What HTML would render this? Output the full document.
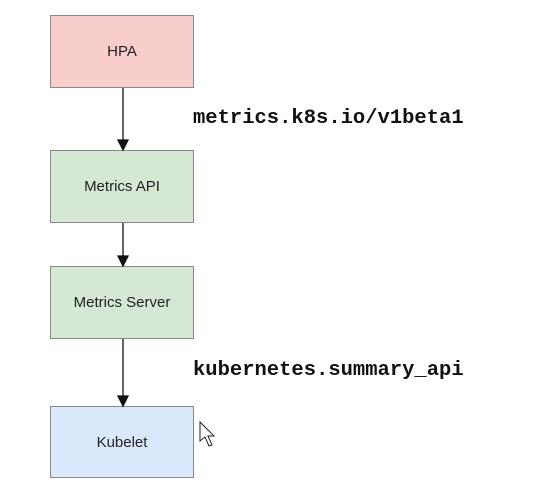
<!DOCTYPE html>
<html><head><style>
body{margin:0;width:533px;height:498px;background:#fff;position:relative;overflow:hidden;font-family:"Liberation Sans",sans-serif}
.b{position:absolute;left:50px;width:144px;height:72px;border:1px solid #888;display:flex;align-items:center;justify-content:center;font-size:15px;color:#222;box-sizing:border-box}
.m{position:absolute;left:193px;font-family:"Liberation Mono",monospace;font-weight:bold;font-size:20.5px;color:#111}
</style></head><body>
<div class="b" style="top:15px;height:73px;background:#f8cecc">HPA</div>
<div class="b" style="top:150px;height:73px;background:#d5e8d4">Metrics API</div>
<div class="b" style="top:266px;height:73px;background:#d5e8d4">Metrics Server</div>
<div class="b" style="top:406px;height:72px;background:#dae8fc">Kubelet</div>
<svg width="533" height="498" style="position:absolute;left:0;top:0">
<g stroke="#111" stroke-width="1.3" fill="#111">
<line x1="123" y1="88" x2="123" y2="142"/><polygon points="118,140 128,140 123,150"/>
<line x1="123" y1="223" x2="123" y2="258"/><polygon points="118,256 128,256 123,266"/>
<line x1="123" y1="339" x2="123" y2="398"/><polygon points="118,396 128,396 123,406"/>
</g>
<path d="M200,422 L200,441 L205,437 L209,446 L212,445 L208,436 L214,436 Z" fill="#fff" stroke="#222" stroke-width="1"/>
</svg>
<div class="m" style="top:107px">metrics.k8s.io/v1beta1</div>
<div class="m" style="top:359px">kubernetes.summary_api</div>
</body></html>
